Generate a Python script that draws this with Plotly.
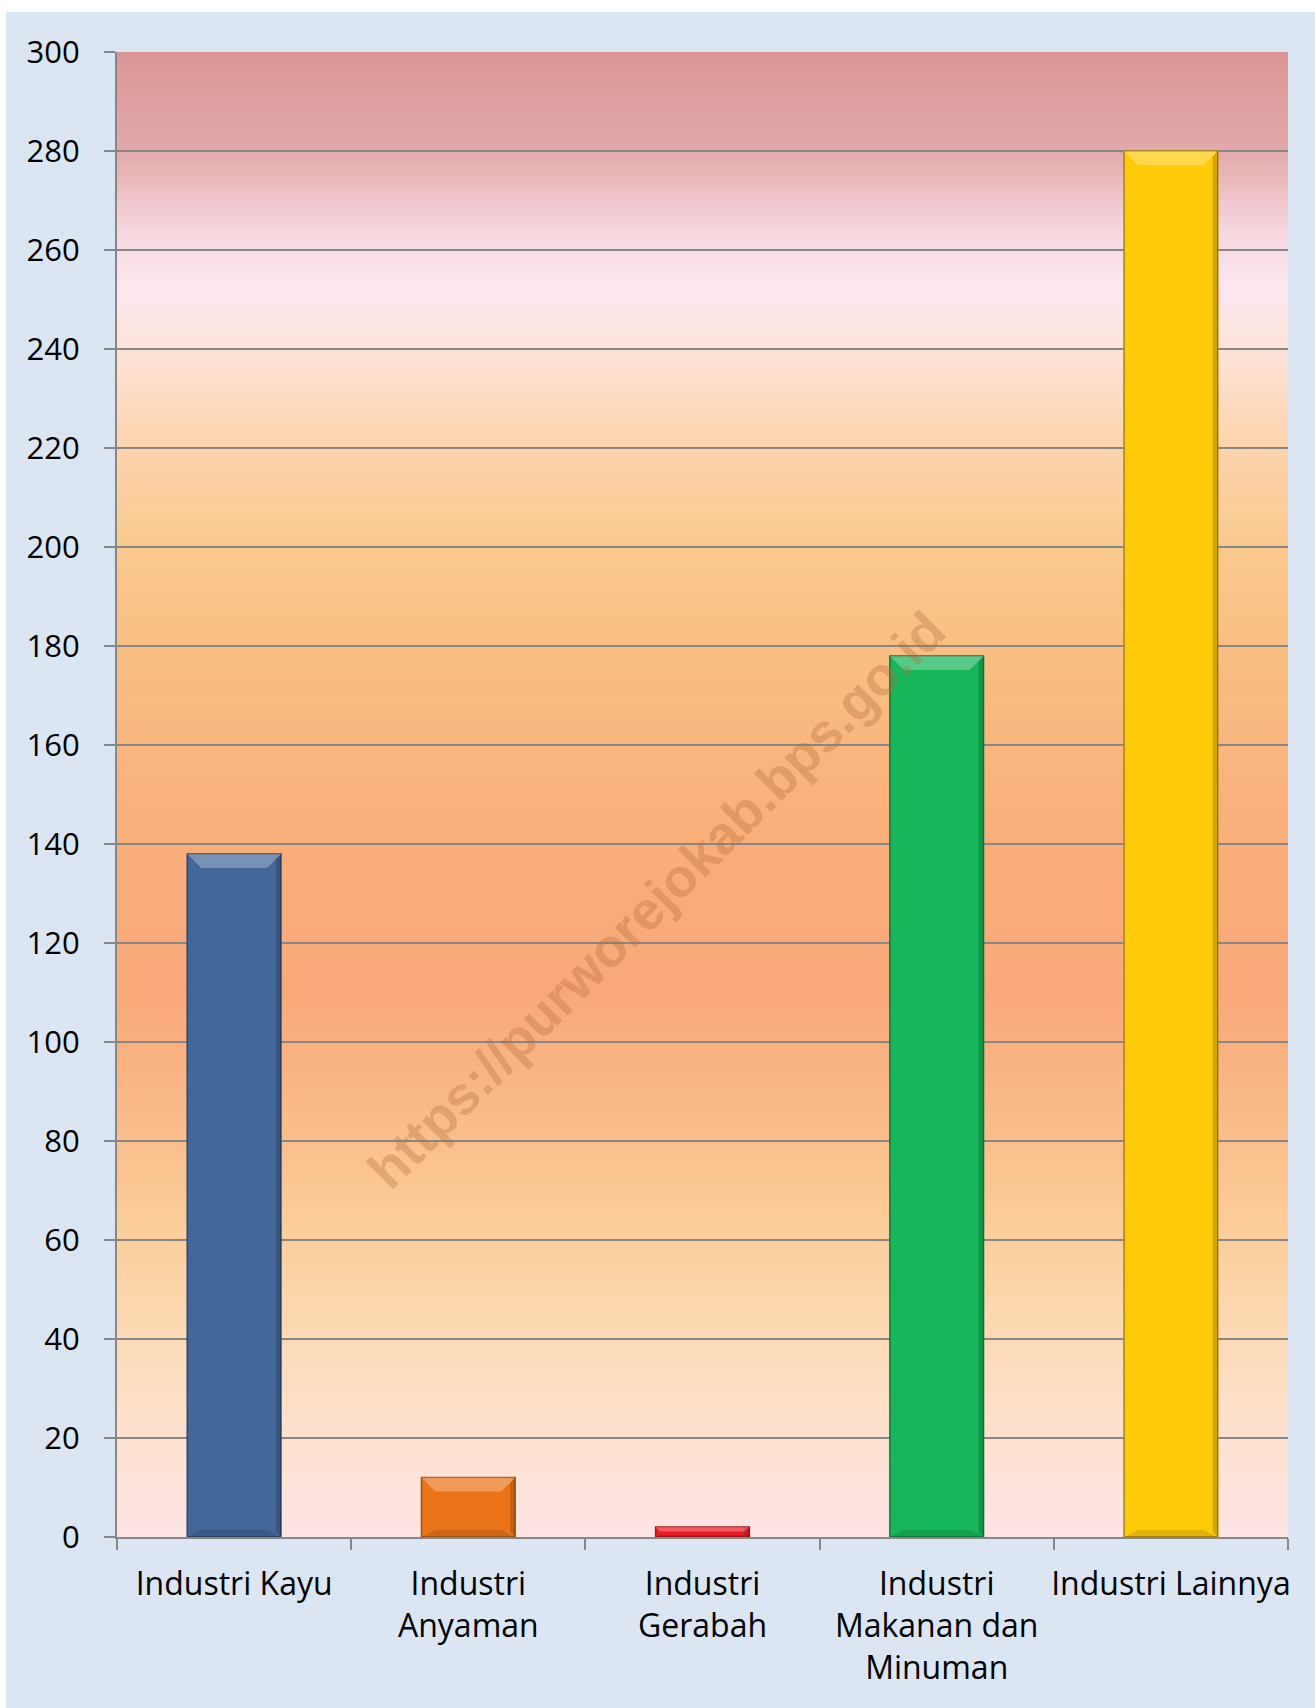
import plotly.graph_objects as go

categories = ["Industri Kayu", "Industri<br>Anyaman", "Industri<br>Gerabah",
              "Industri<br>Makanan dan<br>Minuman", "Industri Lainnya"]
values = [138, 12, 2, 178, 280]
bar_colors = ["#44679a", "#eb7419", "#ee1d25", "#17b65a", "#ffca0a"]
bar_edges = ["#2c466c", "#9e5211", "#a11419", "#0f7a3c", "#a8850a"]
y_ticks = list(range(0, 301, 20))

# background gradient stops (value on y axis, colour)
grad_stops = [
    (0, (253, 228, 230)), (20, (253, 226, 208)), (40, (252, 218, 182)),
    (60, (251, 207, 156)), (80, (250, 191, 140)), (110, (249, 168, 122)),
    (140, (249, 174, 122)), (180, (249, 191, 130)), (200, (250, 201, 142)),
    (222, (252, 213, 176)), (242, (253, 228, 222)), (252, (253, 232, 240)),
    (264, (246, 214, 222)), (280, (226, 170, 171)), (300, (217, 149, 148)),
]


def grad_color(v):
    for (a, ca), (b, cb) in zip(grad_stops[:-1], grad_stops[1:]):
        if a <= v <= b:
            t = (v - a) / (b - a)
            c = [round(ca[i] + (cb[i] - ca[i]) * t) for i in range(3)]
            return "rgb(%d,%d,%d)" % tuple(c)
    return "rgb(%d,%d,%d)" % grad_stops[-1][1]


W, H = 1315, 1708
ML, MR, MT, MB = 117, 27, 52, 171
pw, ph = W - ML - MR, H - MT - MB
YMAX = 300
BAR_W = 0.4

shapes = []
step = 1
for v in range(0, YMAX, step):
    shapes.append(dict(type="rect", xref="paper", yref="y", x0=0, x1=1,
                       y0=v, y1=min(v + step * 1.8, YMAX), layer="below", line=dict(width=0),
                       fillcolor=grad_color(v + step / 2)))
# white page border strips (outside the light-blue panel)
shapes.append(dict(type="rect", xref="paper", yref="paper",
                   x0=-ML / pw - 0.01, x1=(6 - ML) / pw, y0=-MB / ph - 0.01, y1=1 + MT / ph + 0.01,
                   fillcolor="white", line=dict(width=0), layer="below"))
shapes.append(dict(type="rect", xref="paper", yref="paper",
                   x0=-ML / pw - 0.01, x1=1 + MR / pw + 0.01, y0=1 + (MT - 12) / ph, y1=1 + MT / ph + 0.01,
                   fillcolor="white", line=dict(width=0), layer="below"))

# bevel effect on each bar, derived from the bar values
dx = 14 / (pw / 5)       # bevel width in category units
dy_full = 14 / ph * YMAX  # bevel height in value units
side = 5 / (pw / 5)
for i, v in enumerate(values):
    x0, x1 = i - BAR_W / 2, i + BAR_W / 2
    dy = min(dy_full, v * 0.45)
    ddx = dx * dy / dy_full
    # top highlight
    shapes.append(dict(type="path", xref="x", yref="y",
                       path=f"M{x0},{v} L{x1},{v} L{x1 - ddx},{v - dy} L{x0 + ddx},{v - dy} Z",
                       fillcolor="rgba(255,255,255,0.28)", line=dict(width=0)))
    # right shade
    shapes.append(dict(type="path", xref="x", yref="y",
                       path=f"M{x1},{v} L{x1},0 L{x1 - side},{dy * 0.4} L{x1 - side},{v - dy * 0.4} Z",
                       fillcolor="rgba(0,0,0,0.18)", line=dict(width=0)))
    # bottom shade
    shapes.append(dict(type="path", xref="x", yref="y",
                       path=f"M{x0},0 L{x1},0 L{x1 - ddx},{dy * 0.5} L{x0 + ddx},{dy * 0.5} Z",
                       fillcolor="rgba(0,0,0,0.12)", line=dict(width=0)))

fig = go.Figure()
fig.add_trace(go.Bar(
    x=categories, y=values, width=BAR_W,
    marker=dict(color=bar_colors, line=dict(color=bar_edges, width=1.5)),
    hoverinfo="x+y",
))

fig.add_annotation(
    text="https://purworejokab.bps.go.id", xref="paper", yref="paper",
    x=(656 - ML) / pw, y=1 - (900 - MT) / ph, showarrow=False, textangle=-45,
    font=dict(family="Liberation Sans", size=54, color="rgba(175,105,55,0.33)", weight="bold"),
)

axis_gray = "#878787"
fig.update_layout(
    width=W, height=H,
    margin=dict(l=ML, r=MR, t=MT, b=MB, pad=0, autoexpand=False),
    paper_bgcolor="#dce6f2",
    plot_bgcolor="#fde4e6",
    showlegend=False,
    shapes=shapes,
    font=dict(family="Open Sans", size=31, color="black"),
    xaxis=dict(
        type="category", range=[-0.5, 4.5], tickson="boundaries", automargin=False,
        tickangle=0,
        ticks="outside", ticklen=11, tickwidth=2, tickcolor=axis_gray,
        showline=True, linecolor=axis_gray, linewidth=2, showgrid=False,
        ticklabelstandoff=18, tickfont=dict(family="Open Sans", size=32, color="black"),
    ),
    yaxis=dict(
        range=[0, YMAX], tickvals=y_ticks, ticks="outside", ticklen=11, tickwidth=2,
        automargin=False,
        tickcolor=axis_gray, showline=True, linecolor=axis_gray, linewidth=2,
        showgrid=True, gridcolor=axis_gray, gridwidth=2, zeroline=False,
        ticklabelstandoff=18, tickfont=dict(family="Open Sans", size=31, color="black"),
    ),
)

fig.write_html("out.html", config={"displayModeBar": False},
               post_script="document.body.style.margin='0';")
